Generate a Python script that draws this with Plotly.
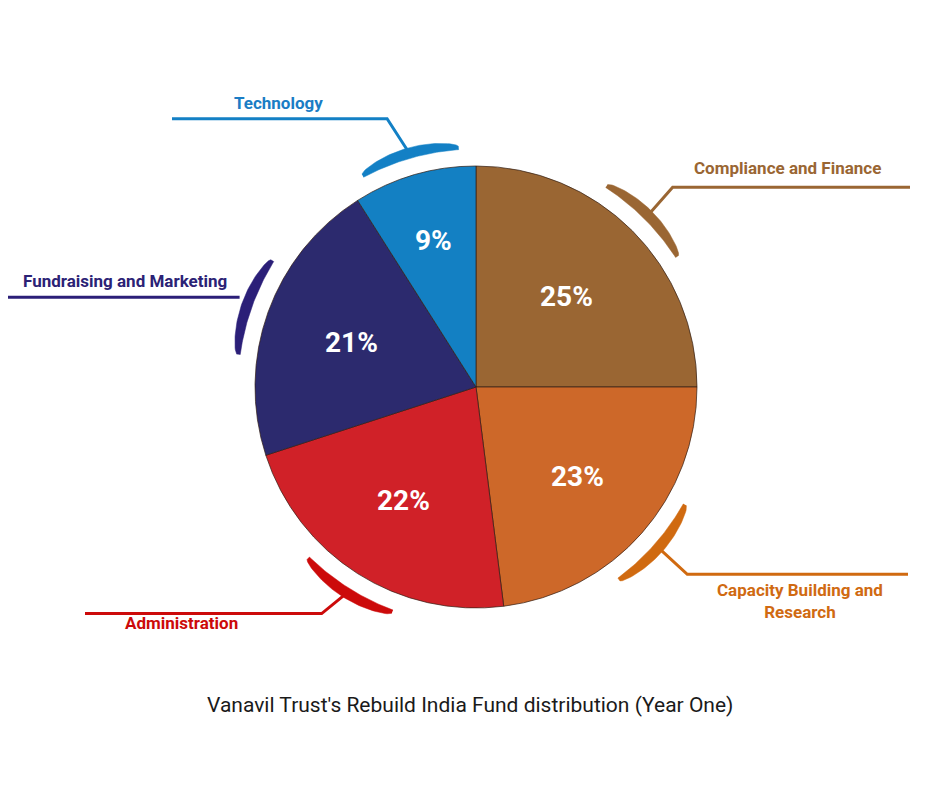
import numpy as np
import plotly.graph_objects as go

# ---- data ----
categories = ["Compliance and Finance", "Capacity Building and Research", "Administration",
              "Fundraising and Marketing", "Technology"]
values = [25, 23, 22, 21, 9]
label_text = ["Compliance and Finance", "Capacity Building and<br>Research", "Administration",
              "Fundraising and Marketing", "Technology"]
title_text = "Vanavil Trust's Rebuild India Fund distribution (Year One)"

# ---- style ----
slice_colors = ["#9A6633", "#CD6829", "#D02128", "#2C2A6E", "#1380C3"]
arc_colors = ["#9A6633", "#D06A10", "#CC0A0A", "#2B1F78", "#1380C5"]
label_colors = ["#9A6633", "#D06A12", "#CC0A0A", "#2B2275", "#1A7DC5"]

W, H = 940, 788
CX, CY, R = 476, 387, 221
ARC_R, ARC_SPAN = 238, 24
# connector layout: (elbow dx, elbow dy, line end x, label x, label y)
conn = [
    (22, -25, 910, 787, 168),
    (26, 24, 908, 800, 601),
    (-22, 18, 85, 181, 623),
    (0, 0, 8, 125, 281),
    (-20, -31, 172, 278, 103),
]
# radial position of percentage text (fraction of radius)
pct_r = [0.58, 0.61, 0.61, 0.60, 0.69]

fig = go.Figure()
fig.add_trace(go.Pie(
    labels=categories, values=values, sort=False, direction="clockwise", rotation=0,
    marker=dict(colors=slice_colors, line=dict(color="rgba(50,30,20,0.7)", width=1)),
    textinfo="none",
    hoverinfo="label+percent", showlegend=False,
    domain=dict(x=[(CX - R) / W, (CX + R) / W], y=[(H - CY - R) / H, (H - CY + R) / H]),
))

total = sum(values)
start = 0.0
for i, v in enumerate(values):
    mid = start + v / total * 360 / 2
    start += v / total * 360
    th = np.linspace(mid - ARC_SPAN / 2, mid + ARC_SPAN / 2, 50)
    u = (th - th[0]) / (th[-1] - th[0])
    thick = 3.5 + 7 * np.sin(np.pi * u) ** 0.6
    r_in = ARC_R + 0 * u
    r_out = ARC_R + thick
    t_all = np.concatenate([th, th[::-1]])
    r_all = np.concatenate([r_out, r_in[::-1]])
    xs = CX + r_all * np.sin(np.radians(t_all))
    ys = CY - r_all * np.cos(np.radians(t_all))
    fig.add_trace(go.Scatter(x=xs, y=ys, mode="lines", fill="toself", fillcolor=arc_colors[i],
                             line=dict(color=arc_colors[i], width=0.5), hoverinfo="skip", showlegend=False))
    # connector
    r0 = ARC_R + 9
    x0 = CX + r0 * np.sin(np.radians(mid))
    y0 = CY - r0 * np.cos(np.radians(mid))
    edx, edy, xend, lx, ly = conn[i]
    if edx == 0 and edy == 0:
        px, py = [x0 - 4, xend], [y0 - 6, y0 - 6]
    else:
        px = [x0, x0 + edx, xend]
        py = [y0, y0 + edy, y0 + edy]
    fig.add_trace(go.Scatter(x=px, y=py, mode="lines", line=dict(color=arc_colors[i], width=3),
                             hoverinfo="skip", showlegend=False))
    fig.add_annotation(x=lx, y=ly, xref="x", yref="y", text=f"<b>{label_text[i]}</b>",
                       showarrow=False, font=dict(family="Roboto", size=17, color=label_colors[i]),
                       align="center", xanchor="center", yanchor="middle")
    # percentage label
    rp = pct_r[i] * R
    fig.add_annotation(x=CX + rp * np.sin(np.radians(mid)), y=CY - rp * np.cos(np.radians(mid)),
                       xref="x", yref="y", text=f"<b>{v}%</b>", showarrow=False,
                       font=dict(family="Roboto", size=28, color="white"),
                       xanchor="center", yanchor="middle")

fig.add_annotation(x=470, y=705, xref="x", yref="y", text=title_text, showarrow=False,
                   font=dict(family="Roboto", size=21, color="#1a1a1a"), xanchor="center", yanchor="middle")

fig.update_layout(
    width=W, height=H, margin=dict(l=0, r=0, t=0, b=0),
    paper_bgcolor="white", plot_bgcolor="rgba(0,0,0,0)",
    xaxis=dict(range=[0, W], visible=False, fixedrange=True, domain=[0, 1]),
    yaxis=dict(range=[H, 0], visible=False, fixedrange=True, domain=[0, 1]),
)
fig.write_html("out.html")
